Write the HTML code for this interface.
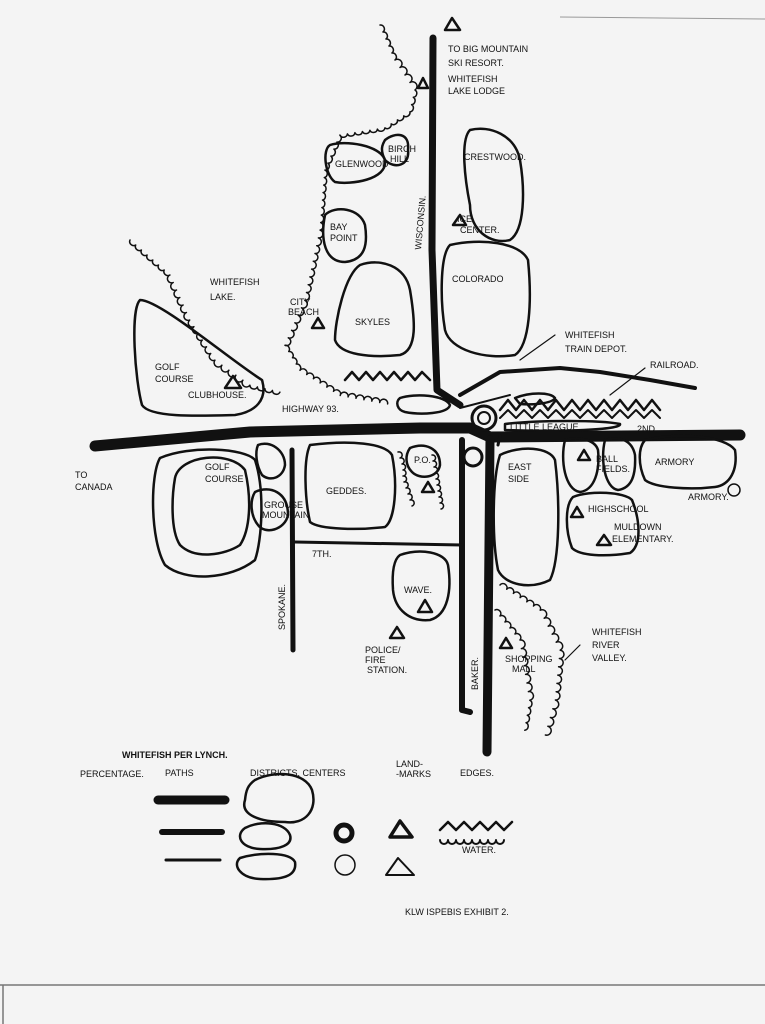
<!DOCTYPE html>
<html><head><meta charset="utf-8"><style>
html,body{margin:0;padding:0;background:#f3f3f3;}
svg{display:block}
text{font-family:"Liberation Sans",sans-serif;font-size:9px;fill:#111;}
</style></head><body>
<svg width="765" height="1024" viewBox="0 0 765 1024" xmlns="http://www.w3.org/2000/svg">
<rect width="765" height="1024" fill="#f4f4f4"/>
<line x1="560" y1="17" x2="765" y2="19" stroke="#999" stroke-width="1"/>
<line x1="0" y1="985" x2="765" y2="985" stroke="#777" stroke-width="1.5"/>
<line x1="3" y1="985" x2="3" y2="1024" stroke="#777" stroke-width="1.5"/>
<g fill="none" stroke="#111" stroke-linecap="round" stroke-linejoin="round">
<!-- scalloped shore lines -->
<path stroke-width="1.5" d="M380 25 a4 4 0 0 1 3 7 a4 4 0 0 1 3 7 a4 4 0 0 1 3 7 a4 4 0 0 1 3 7 a4 4 0 0 1 3 7 a4 4 0 0 1 5 7.5 a4 4 0 0 1 5 7.5 a4 4 0 0 1 5 7.5 a4 4 0 0 1 5 7.5 a4 4 0 0 1 -1.7 7.3 a4 4 0 0 1 -1.7 7.3 a4 4 0 0 1 -1.7 7.3 a4 4 0 0 1 -6.25 4 a4 4 0 0 1 -6.25 4 a4 4 0 0 1 -6.25 4 a4 4 0 0 1 -6.25 4 a4 4 0 0 1 -7.5 1.2 a4 4 0 0 1 -7.5 1.2 a4 4 0 0 1 -7.5 1.2 a4 4 0 0 1 -7.5 1.2 a4 4 0 0 1 -7.5 1.2 a4 4 0 0 1 -7.5 1.2 a4 4 0 0 1 -3 7 a4 4 0 0 1 -3 7 a4 4 0 0 1 -3 7 a4 4 0 0 1 -3 7 a4 4 0 0 1 -3 7 a4 4 0 0 1 -0.6 7.5 a4 4 0 0 1 -0.6 7.5 a4 4 0 0 1 -0.6 7.5 a4 4 0 0 1 -0.6 7.5 a4 4 0 0 1 -0.6 7.5 a4 4 0 0 1 -0.6 7.5 a4 4 0 0 1 -0.6 7.5 a4 4 0 0 1 -0.6 7.5 a4 4 0 0 1 -1.7 7.8 a4 4 0 0 1 -1.7 7.8 a4 4 0 0 1 -1.7 7.8 a4 4 0 0 1 -1.7 7.8 a4 4 0 0 1 -1.7 7.8 a4 4 0 0 1 -1.7 7.8 a4 4 0 0 1 -1.7 7.8 a4 4 0 0 1 -1.7 7.8 a4 4 0 0 1 -1.7 7.8 a4 4 0 0 1 -3.3 7.5 a4 4 0 0 1 -3.3 7.5 a4 4 0 0 1 -3.3 7.5 a4 4 0 0 1 -3.3 7.5 a4 4 0 0 1 -3.3 7.5 a4 4 0 0 1 -3.3 7.5 a4 4 0 0 1 3.75 6.25 a4 4 0 0 1 3.75 6.25 a4 4 0 0 1 3.75 6.25 a4 4 0 0 1 3.75 6.25 a4 4 0 0 1 6.7 4.2 a4 4 0 0 1 6.7 4.2 a4 4 0 0 1 6.7 4.2 a4 4 0 0 1 6.7 4.2 a4 4 0 0 1 6.7 4.2 a4 4 0 0 1 6.7 4.2 a4 4 0 0 1 7.9 1.4 a4 4 0 0 1 7.9 1.4 a4 4 0 0 1 7.9 1.4 a4 4 0 0 1 7.9 1.4 a4 4 0 0 1 7.9 1.4 a4 4 0 0 1 7.9 1.4"/>
<path stroke-width="1.5" d="M130 240 a4 4 0 0 0 5.7 5 a4 4 0 0 0 5.7 5 a4 4 0 0 0 5.7 5 a4 4 0 0 0 5.7 5 a4 4 0 0 0 5.7 5 a4 4 0 0 0 5.7 5 a4 4 0 0 0 5.7 5 a4 4 0 0 0 3.3 7.5 a4 4 0 0 0 3.3 7.5 a4 4 0 0 0 3.3 7.5 a4 4 0 0 0 3.3 7.5 a4 4 0 0 0 3.3 7.5 a4 4 0 0 0 3.3 7.5 a4 4 0 0 0 4.2 6.7 a4 4 0 0 0 4.2 6.7 a4 4 0 0 0 4.2 6.7 a4 4 0 0 0 4.2 6.7 a4 4 0 0 0 4.2 6.7 a4 4 0 0 0 4.2 6.7 a4 4 0 0 0 7 5 a4 4 0 0 0 7 5 a4 4 0 0 0 7 5 a4 4 0 0 0 7 5 a4 4 0 0 0 7 5 a4 4 0 0 0 7.5 1.75 a4 4 0 0 0 7.5 1.75 a4 4 0 0 0 7.5 1.75 a4 4 0 0 0 7.5 1.75"/>
<path stroke-width="1.5" d="M500 585 a4 4 0 0 1 6.7 4.2 a4 4 0 0 1 6.7 4.2 a4 4 0 0 1 6.7 4.2 a4 4 0 0 1 6.7 4.2 a4 4 0 0 1 6.7 4.2 a4 4 0 0 1 6.7 4.2 a4 4 0 0 1 4 8 a4 4 0 0 1 4 8 a4 4 0 0 1 4 8 a4 4 0 0 1 4 8 a4 4 0 0 1 4 8 a4 4 0 0 1 -0.8 8.3 a4 4 0 0 1 -0.8 8.3 a4 4 0 0 1 -0.8 8.3 a4 4 0 0 1 -0.8 8.3 a4 4 0 0 1 -0.8 8.3 a4 4 0 0 1 -0.8 8.3 a4 4 0 0 1 -2.5 8.75 a4 4 0 0 1 -2.5 8.75 a4 4 0 0 1 -2.5 8.75 a4 4 0 0 1 -2.5 8.75"/>
<path stroke-width="1.5" d="M495 610 a4 4 0 0 1 5 6 a4 4 0 0 1 5 6 a4 4 0 0 1 5 6 a4 4 0 0 1 5 6 a4 4 0 0 1 5 6 a4 4 0 0 1 1.4 8.6 a4 4 0 0 1 1.4 8.6 a4 4 0 0 1 1.4 8.6 a4 4 0 0 1 1.4 8.6 a4 4 0 0 1 1.4 8.6 a4 4 0 0 1 1.4 8.6 a4 4 0 0 1 1.4 8.6 a4 4 0 0 1 -1.25 7.5 a4 4 0 0 1 -1.25 7.5 a4 4 0 0 1 -1.25 7.5 a4 4 0 0 1 -1.25 7.5"/>
<path stroke-width="1.5" d="M398 452 a3 3 0 0 1 2 6 a3 3 0 0 1 2 6 a3 3 0 0 1 1 6 a3 3 0 0 1 0 6 a3 3 0 0 1 1 6 a3 3 0 0 1 2 6 a3 3 0 0 1 2 6 a3 3 0 0 1 2 6 a3 3 0 0 1 2 6"/>
<path stroke-width="1.5" d="M432 455 a3 3 0 0 1 1 6 a3 3 0 0 1 1 6 a3 3 0 0 1 1 6 a3 3 0 0 1 1 6 a3 3 0 0 1 1 6 a3 3 0 0 1 1 6 a3 3 0 0 1 1 6 a3 3 0 0 1 1 6 a3 3 0 0 1 1 6"/>
<!-- roads -->
<path stroke-width="7" d="M433 38 L432 250 L437 390 L460 405"/>
<path stroke-width="11" d="M95 446 L250 432 L420 428 L470 428 L490 437 L740 435"/>
<path stroke-width="9" d="M490 440 L487 752"/>
<path stroke-width="6" d="M462 440 L462 710 L470 712"/>
<path stroke-width="5" d="M292 450 L293 650"/>
<path stroke-width="3" d="M295 542 L462 545"/>
<path stroke-width="3" d="M500 436 L498 445"/>
<path stroke-width="4" d="M460 395 L500 372 L560 368 L600 372 L650 380 L695 388"/>
<path stroke-width="2" d="M460 408 L510 395"/>
<!-- centers near junction -->
<circle cx="484" cy="418" r="12" stroke-width="3"/>
<circle cx="484" cy="418" r="6" stroke-width="2"/>
<circle cx="473" cy="457" r="9" stroke-width="3"/>
<!-- water zigzags -->
<polyline stroke-width="2.5" points="345,380 352,372 359,380 366,372 373,380 380,372 387,380 394,372 401,380 408,372 415,380 422,372 430,380"/>
<polyline stroke-width="2.5" points="500,410 508,400 516,410 524,400 532,410 540,400 548,410 556,400 564,410 572,400 580,410 588,400 596,410 604,400 612,410 620,400 628,410 636,400 644,410 652,400 660,410"/>
<polyline stroke-width="2" points="500,418 508,410 516,418 524,410 532,418 540,410 548,418 556,410 564,418 572,410 580,418 588,410 596,418 604,410 612,418 620,410 628,418 636,410 644,418 652,410 660,418"/>
<!-- districts -->
<g stroke-width="2.5">
<path d="M330 145 C345 140 380 145 385 160 C388 180 350 185 335 182 C325 175 322 150 330 145Z"/>
<path d="M385 140 C395 132 410 132 408 150 C410 165 395 170 385 160 C380 150 382 145 385 140Z"/>
<path d="M470 130 C490 125 515 135 520 160 C525 190 525 230 510 240 C490 245 470 230 470 205 C465 180 460 140 470 130Z"/>
<path d="M325 215 C335 205 360 208 365 225 C368 245 365 260 345 262 C325 262 320 240 325 215Z"/>
<path d="M450 245 C480 238 520 242 528 260 C532 300 530 345 515 355 C485 360 450 350 445 330 C440 300 440 255 450 245Z"/>
<path d="M360 265 C380 258 405 265 410 290 C415 320 418 350 400 355 C370 358 340 355 335 340 C335 320 345 275 360 265Z"/>
<path d="M140 300 C160 300 230 360 262 380 C268 400 255 412 235 415 C200 416 150 418 142 405 C135 380 130 310 140 300Z"/>
<path d="M400 398 C415 393 445 395 450 405 C448 414 420 415 405 412 C397 410 395 402 400 398Z"/>
<path d="M515 398 C530 392 550 392 555 398 C552 404 530 405 520 404Z"/>
<path d="M505 424 C540 420 600 420 620 424 C622 430 560 432 505 430Z"/>
<path d="M160 458 C190 445 245 448 255 460 C265 490 262 540 255 560 C230 580 185 582 165 565 C150 540 150 475 160 458Z"/>
<path d="M175 478 C180 455 230 450 245 470 C252 500 250 530 240 545 C225 555 195 560 180 545 C170 530 172 495 175 478Z"/>
<path d="M258 445 C270 440 285 450 285 465 C283 478 270 482 262 475 C256 465 255 452 258 445Z"/>
<path d="M255 492 C270 485 288 492 288 515 C285 530 265 535 258 525 C250 515 250 500 255 492Z"/>
<path d="M310 445 C350 440 385 443 392 455 C398 485 395 520 385 527 C360 530 320 530 310 522 C305 500 303 460 310 445Z"/>
<path d="M410 448 C425 442 440 448 440 465 C438 478 420 480 412 472 C405 465 405 455 410 448Z"/>
<path d="M500 455 C520 445 550 447 555 460 C560 500 560 560 550 580 C530 590 505 585 498 570 C492 540 492 480 500 455Z"/>
<path d="M565 440 C580 436 595 440 598 450 C600 470 595 490 580 492 C565 490 560 460 565 440Z"/>
<path d="M605 440 C620 436 632 440 635 455 C636 475 632 488 618 490 C605 488 600 460 605 440Z"/>
<path d="M645 440 C680 432 725 436 735 450 C738 470 730 485 715 487 C690 490 655 488 645 480 C638 465 638 448 645 440Z"/>
<path d="M573 497 C590 490 625 492 632 500 C640 520 642 545 630 553 C605 557 580 556 572 548 C565 530 565 505 573 497Z"/>
<path d="M400 555 C420 548 445 552 448 565 C452 590 448 615 430 620 C410 622 395 610 393 590 C392 575 393 560 400 555Z"/>
<!-- legend -->
<path d="M255 780 C275 770 305 772 312 790 C318 810 305 825 285 822 C260 822 240 815 245 800 C246 790 248 785 255 780Z"/>
<path d="M245 828 C260 820 285 822 290 835 C293 845 280 850 260 849 C240 848 235 835 245 828Z"/>
<path d="M240 858 C260 852 290 852 295 862 C297 875 285 880 260 879 C240 878 232 865 240 858Z"/>
</g>
<circle cx="344" cy="833" r="8" stroke-width="5"/>
<circle cx="345" cy="865" r="10" stroke-width="1.5"/>
<path stroke-width="3.5" d="M390 837 L400 821 L412 837Z"/>
<path stroke-width="2" d="M386 875 L398 858 L414 875Z"/>
<polyline stroke-width="2.5" points="440,830 448,822 456,830 464,822 472,830 480,822 488,830 496,822 504,830 512,822"/>
<path stroke-width="2" d="M440 840 a4 4 0 0 0 8 0 a4 4 0 0 0 8 0 a4 4 0 0 0 8 0 a4 4 0 0 0 8 0 a4 4 0 0 0 8 0 a4 4 0 0 0 8 0 a4 4 0 0 0 8 0 a4 4 0 0 0 8 0"/>
<line x1="158" y1="800" x2="225" y2="800" stroke-width="9"/>
<line x1="162" y1="832" x2="222" y2="832" stroke-width="6"/>
<line x1="166" y1="860" x2="220" y2="860" stroke-width="3"/>
<!-- landmarks -->
<g stroke-width="2.5">
<path d="M445 30 L452 18 L460 30Z"/>
<path d="M418 88 L423 78 L428 88Z"/>
<path d="M453 225 L460 215 L466 225Z"/>
<path d="M312 328 L318 318 L324 328Z"/>
<path d="M225 388 L233 376 L241 388Z"/>
<path d="M422 492 L428 482 L434 492Z"/>
<path d="M578 460 L584 450 L590 460Z"/>
<path d="M571 517 L577 507 L583 517Z"/>
<path d="M597 545 L604 535 L611 545Z"/>
<path d="M418 612 L425 600 L432 612Z"/>
<path d="M390 638 L397 627 L404 638Z"/>
<path d="M500 648 L506 638 L512 648Z"/>
</g>
<circle cx="734" cy="490" r="6" stroke-width="1.5"/>
<path stroke-width="1.2" d="M555 335 L520 360 M645 368 L610 395 M580 645 L565 660"/>
</g>
<text x="448" y="52">TO BIG MOUNTAIN</text>
<text x="448" y="66">SKI RESORT.</text>
<text x="448" y="82">WHITEFISH</text>
<text x="448" y="94">LAKE LODGE</text>
<text x="464" y="160">CRESTWOOD.</text>
<text x="457" y="222">ICE</text>
<text x="460" y="233">CENTER.</text>
<text x="335" y="167" font-size="7">GLENWOOD</text>
<text x="388" y="152" font-size="8">BIRCH</text>
<text x="390" y="162" font-size="8">HILL</text>
<text x="330" y="230">BAY</text>
<text x="330" y="241">POINT</text>
<text x="421" y="250" transform="rotate(-85 421 250)">WISCONSIN.</text>
<text x="452" y="282">COLORADO</text>
<text x="210" y="285">WHITEFISH</text>
<text x="210" y="300">LAKE.</text>
<text x="290" y="305" font-size="8">CITY</text>
<text x="288" y="315" font-size="8">BEACH</text>
<text x="355" y="325">SKYLES</text>
<text x="565" y="338">WHITEFISH</text>
<text x="565" y="352">TRAIN DEPOT.</text>
<text x="650" y="368">RAILROAD.</text>
<text x="155" y="370">GOLF</text>
<text x="155" y="382">COURSE</text>
<text x="188" y="398" font-size="8">CLUBHOUSE.</text>
<text x="282" y="412">HIGHWAY 93.</text>
<text x="510" y="430" font-size="8">LITTLE LEAGUE</text>
<text x="637" y="432" font-size="8">2ND</text>
<text x="205" y="470">GOLF</text>
<text x="205" y="482">COURSE</text>
<text x="75" y="478">TO</text>
<text x="75" y="490">CANADA</text>
<text x="264" y="508" font-size="7">GROUSE</text>
<text x="262" y="518" font-size="7">MOUNTAIN</text>
<text x="326" y="494">GEDDES.</text>
<text x="414" y="463" font-size="8">P.O.</text>
<text x="508" y="470">EAST</text>
<text x="508" y="482">SIDE</text>
<text x="596" y="462" font-size="8">BALL</text>
<text x="596" y="472" font-size="8">FIELDS.</text>
<text x="655" y="465">ARMORY</text>
<text x="688" y="500" font-size="8">ARMORY.</text>
<text x="588" y="512" font-size="8">HIGHSCHOOL</text>
<text x="614" y="530" font-size="8">MULDOWN</text>
<text x="612" y="542" font-size="8">ELEMENTARY.</text>
<text x="312" y="557" font-size="8">7TH.</text>
<text x="404" y="593">WAVE.</text>
<text x="285" y="630" font-size="8" transform="rotate(-90 285 630)">SPOKANE.</text>
<text x="365" y="653" font-size="8">POLICE/</text>
<text x="365" y="663" font-size="8">FIRE</text>
<text x="367" y="673" font-size="8">STATION.</text>
<text x="478" y="690" font-size="8" transform="rotate(-90 478 690)">BAKER.</text>
<text x="505" y="662" font-size="8">SHOPPING</text>
<text x="512" y="672" font-size="8">MALL</text>
<text x="592" y="635">WHITEFISH</text>
<text x="592" y="648">RIVER</text>
<text x="592" y="661">VALLEY.</text>
<text x="122" y="758" font-size="12" font-weight="bold">WHITEFISH PER LYNCH.</text>
<text x="80" y="777" font-size="8">PERCENTAGE.</text>
<text x="165" y="776" font-size="8">PATHS</text>
<text x="250" y="776" font-size="8">DISTRICTS. CENTERS</text>
<text x="396" y="767" font-size="8">LAND-</text>
<text x="396" y="777" font-size="8">-MARKS</text>
<text x="460" y="776" font-size="8">EDGES.</text>
<text x="462" y="853" font-size="7">WATER.</text>
<text x="405" y="915" font-size="10">KLW ISPEBIS EXHIBIT 2.</text>
</svg>
</body></html>
